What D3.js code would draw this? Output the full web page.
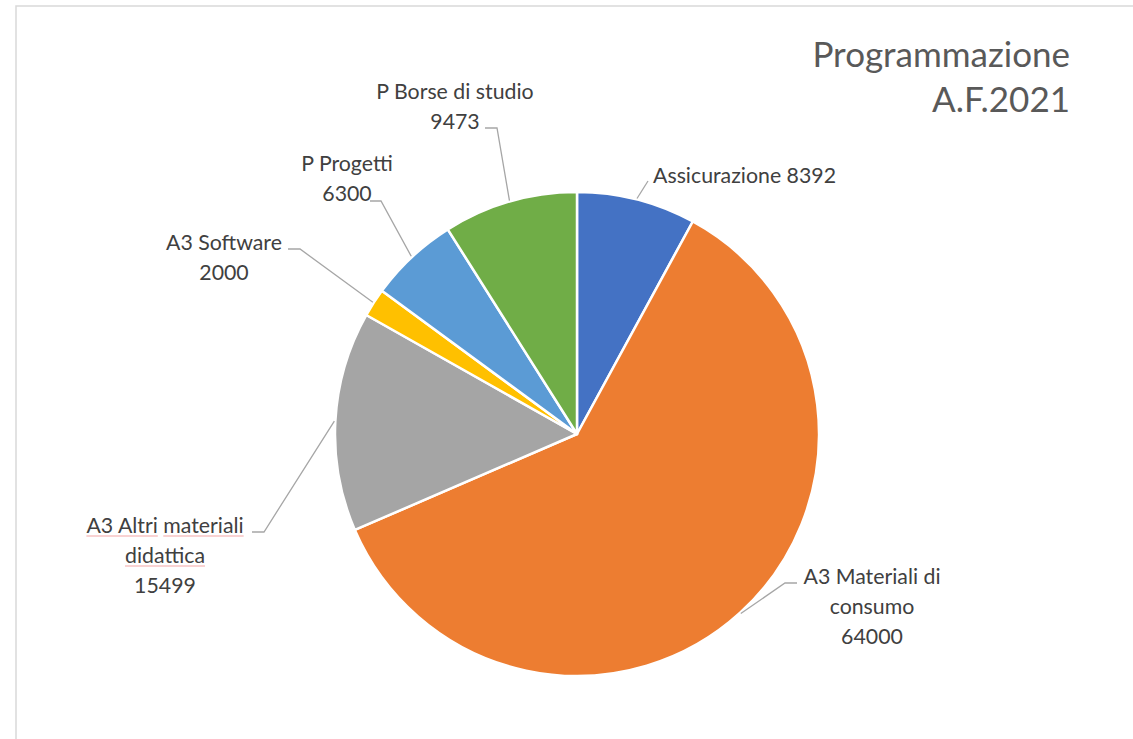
<!DOCTYPE html>
<html>
<head>
<meta charset="utf-8">
<script src="https://cdn.jsdelivr.net/npm/d3@7"></script>
<style>
  html, body { margin: 0; padding: 0; background: #fff; }
  svg { display: block; }
  text { font-family: Lato, "Open Sans", sans-serif; }
</style>
</head>
<body>
<svg id="chart" width="1133" height="739"></svg>
<script>
// ---- data ----
const categories = ["Assicurazione", "A3 Materiali di consumo", "A3 Altri materiali didattica", "A3 Software", "P Progetti", "P Borse di studio"];
const values = [8392, 64000, 15499, 2000, 6300, 9473];
const colors = ["#4472C4", "#ED7D31", "#A5A5A5", "#FFC000", "#5B9BD5", "#70AD47"];
const labelLines = [
  ["Assicurazione 8392"],
  ["A3 Materiali di", "consumo", "64000"],
  ["A3 Altri materiali", "didattica", "15499"],
  ["A3 Software", "2000"],
  ["P Progetti", "6300"],
  ["P Borse di studio", "9473"]
];
const titleLines = ["Programmazione", "A.F.2021"];

// ---- layout (positions only) ----
const W = 1133, H = 739;
const cx = 577, cy = 434, R = 242;
const labelLayout = [
  { x: 653, y: 183, anchor: "start", pts: [[648, 181]] },
  { x: 872, y: 584, anchor: "middle", pts: [[797, 583], [785, 583]] },
  { x: 165, y: 533, anchor: "middle", pts: [[252, 532], [264, 532]] },
  { x: 224, y: 250, anchor: "middle", pts: [[288, 249], [300, 249]] },
  { x: 347, y: 171, anchor: "middle", pts: [[370, 201], [381, 201]] },
  { x: 455, y: 99, anchor: "middle", pts: [[485, 128], [497, 128]] }
];
const lineH = 30;
const labelSize = 21.3;

const svg = d3.select("#chart");

// chart border (top and left edges visible)
svg.append("rect")
  .attr("x", 16).attr("y", 6)
  .attr("width", W + 20).attr("height", H + 20)
  .attr("fill", "none").attr("stroke", "#d9d9d9").attr("stroke-width", 1.5);

const data = categories.map((c, i) => ({ name: c, value: values[i], color: colors[i], lines: labelLines[i], layout: labelLayout[i] }));

const pie = d3.pie().value(d => d.value).sort(null);
const arcs = pie(data);
const arc = d3.arc().innerRadius(0).outerRadius(R);

const g = svg.append("g").attr("transform", `translate(${cx},${cy})`);
g.selectAll("path.slice").data(arcs).join("path")
  .attr("class", "slice")
  .attr("d", arc)
  .attr("fill", d => d.data.color)
  .attr("stroke", "#fff")
  .attr("stroke-width", 2.5)
  .attr("stroke-linejoin", "round");

// leader lines
arcs.forEach(a => {
  const mid = (a.startAngle + a.endAngle) / 2;
  const ex = cx + (R + 1) * Math.sin(mid);
  const ey = cy - (R + 1) * Math.cos(mid);
  const pts = a.data.layout.pts.concat([[ex, ey]]);
  svg.append("path")
    .attr("d", d3.line()(pts))
    .attr("fill", "none")
    .attr("stroke", "#a6a6a6")
    .attr("stroke-width", 1.3);
});

// labels
const spans = {};
data.forEach((d, i) => {
  const t = svg.append("text")
    .attr("text-anchor", d.layout.anchor)
    .attr("fill", "#404040")
    .attr("font-size", labelSize);
  d.lines.forEach((ln, k) => {
    const s = t.append("tspan").attr("x", d.layout.x).attr("y", d.layout.y + k * lineH).text(ln);
    spans[i + "_" + k] = s;
  });
});

// spell-check style underlines under "A3 Altri materiali didattica"
function underline(span, from, to) {
  const node = span.node();
  const bb = node.getBBox();
  const total = node.getComputedTextLength();
  const x0 = bb.x + (from > 0 ? node.getSubStringLength(0, from) : 0);
  const w = node.getSubStringLength(from, to - from);
  const y = +span.attr("y") + 3;
  svg.append("line").attr("x1", x0).attr("x2", x0 + w).attr("y1", y).attr("y2", y)
    .attr("stroke", "#f3a5a5").attr("stroke-width", 1.2);
}
underline(spans["2_0"], 0, 8);
underline(spans["2_0"], 9, 18);
underline(spans["2_1"], 0, 9);

// title
const tt = svg.append("text")
  .attr("text-anchor", "end")
  .attr("fill", "#595959")
  .attr("font-size", 35);
titleLines.forEach((ln, k) => {
  tt.append("tspan").attr("x", 1070).attr("y", 67 + k * 45).text(ln);
});
</script>
</body>
</html>
